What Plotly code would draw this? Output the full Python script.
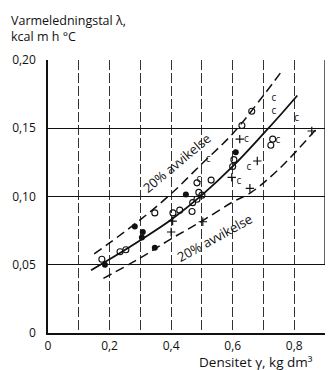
import plotly.graph_objects as go

# ---- data ----
curve_x = [0.14, 0.20, 0.30, 0.40, 0.50, 0.60, 0.70, 0.76, 0.81]
curve_y = [0.046, 0.054, 0.068, 0.083, 0.101, 0.122, 0.146, 0.161, 0.174]

upper_x = [0.15, 0.20, 0.30, 0.40, 0.50, 0.60, 0.70, 0.76]
upper_y = [0.058, 0.066, 0.083, 0.102, 0.124, 0.146, 0.174, 0.192]

lower_x = [0.18, 0.30, 0.40, 0.50, 0.60, 0.66, 0.75, 0.87]
lower_y = [0.040, 0.055, 0.069, 0.082, 0.096, 0.103, 0.120, 0.149]

open_x = [0.175, 0.234, 0.253, 0.347, 0.406, 0.428, 0.470, 0.484, 0.468, 0.490,
          0.500, 0.484, 0.530, 0.600, 0.604, 0.630, 0.662, 0.724, 0.730]
open_y = [0.054, 0.0595, 0.061, 0.088, 0.088, 0.090, 0.0955, 0.098, 0.089, 0.103,
          0.101, 0.110, 0.112, 0.122, 0.127, 0.152, 0.1625, 0.1375, 0.142]

filled_x = [0.185, 0.282, 0.308, 0.305, 0.347, 0.448, 0.610]
filled_y = [0.050, 0.078, 0.074, 0.070, 0.0625, 0.1015, 0.1325]

cross_x = [0.623, 0.680, 0.597, 0.503, 0.656, 0.857, 0.405, 0.400]
cross_y = [0.142, 0.126, 0.114, 0.0815, 0.106, 0.148, 0.082, 0.074]

c_x = [0.734, 0.734, 0.808, 0.645, 0.620, 0.653, 0.747, 0.520, 0.490]
c_y = [0.172, 0.1625, 0.157, 0.142, 0.111, 0.121, 0.141, 0.127, 0.1125]

x_ticks = [0, 0.1, 0.2, 0.3, 0.4, 0.5, 0.6, 0.7, 0.8, 0.9]
x_ticktext = ["0", "", "0,2", "", "0,4", "", "0,6", "", "0,8", ""]
y_ticks = [0, 0.05, 0.10, 0.15, 0.20]
y_ticktext = ["0", "0,05", "0,10", "0,15", "0,20"]

band_label = "20% avvikelse"
y_title = "Varmeledningstal λ,<br>kcal m h °C"
x_title = "Densitet γ, kg dm³"

FONT = "Open Sans"
INK = "#111111"

fig = go.Figure()

fig.add_trace(go.Scatter(x=curve_x, y=curve_y, mode="lines", line_shape="spline",
                         line=dict(color=INK, width=1.8), hoverinfo="skip"))
for bx, by in [(upper_x, upper_y), (lower_x, lower_y)]:
    fig.add_trace(go.Scatter(x=bx, y=by, mode="lines", line_shape="spline",
                             line=dict(color=INK, width=1.5, dash="9px,5px"),
                             hoverinfo="skip"))

fig.add_trace(go.Scatter(x=open_x, y=open_y, mode="markers",
                         marker=dict(symbol="circle-open", size=6, color=INK,
                                     line=dict(width=1.1, color=INK))))
fig.add_trace(go.Scatter(x=filled_x, y=filled_y, mode="markers",
                         marker=dict(symbol="circle", size=6, color=INK)))
fig.add_trace(go.Scatter(x=cross_x, y=cross_y, mode="markers",
                         marker=dict(symbol="cross-thin-open", size=6, color=INK,
                                     line=dict(width=1.2, color=INK))))
fig.add_trace(go.Scatter(x=c_x, y=c_y, mode="text", text=["c"] * len(c_x),
                         textfont=dict(family=FONT, size=10, color=INK)))

# right frame segment (solid part of the 0.9 line)
fig.add_shape(type="line", x0=0.9, x1=0.9, y0=0.05, y1=0.20,
              xref="x", yref="y", line=dict(color=INK, width=1.3))

fig.add_annotation(x=0.418, y=0.1245, xref="x", yref="y", text=band_label,
                   showarrow=False, textangle=-40,
                   font=dict(family=FONT, size=13, color=INK))
fig.add_annotation(x=0.540, y=0.0695, xref="x", yref="y", text=band_label,
                   showarrow=False, textangle=-29,
                   font=dict(family=FONT, size=13, color=INK))

fig.add_annotation(x=-0.14, y=1.117, xref="paper", yref="paper", text=y_title,
                   showarrow=False, xanchor="left", yanchor="middle", align="left",
                   font=dict(family=FONT, size=12.5, color=INK))
fig.add_annotation(x=0.965, y=-0.106, xref="paper", yref="paper", text=x_title,
                   showarrow=False, xanchor="right", yanchor="middle",
                   font=dict(family=FONT, size=13.5, color=INK))

fig.update_layout(
    width=336, height=370,
    margin=dict(l=48, r=11, t=60, b=37),
    paper_bgcolor="white", plot_bgcolor="white",
    showlegend=False,
    font=dict(family=FONT, size=12, color=INK),
    xaxis=dict(range=[0, 0.9], tickvals=x_ticks, ticktext=x_ticktext,
               showgrid=True, gridcolor="#333333", gridwidth=1, griddash="10px,3px",
               showline=True, linecolor=INK, linewidth=1.5, zeroline=False,
               ticks="", ticklabelstandoff=1, fixedrange=True),
    yaxis=dict(range=[0, 0.2], tickvals=y_ticks, ticktext=y_ticktext,
               showgrid=True, gridcolor=INK, gridwidth=1.3,
               showline=True, linecolor=INK, linewidth=1.5, zeroline=False,
               ticks="", ticklabelstandoff=8, fixedrange=True),
)

fig.write_html("out.html")
